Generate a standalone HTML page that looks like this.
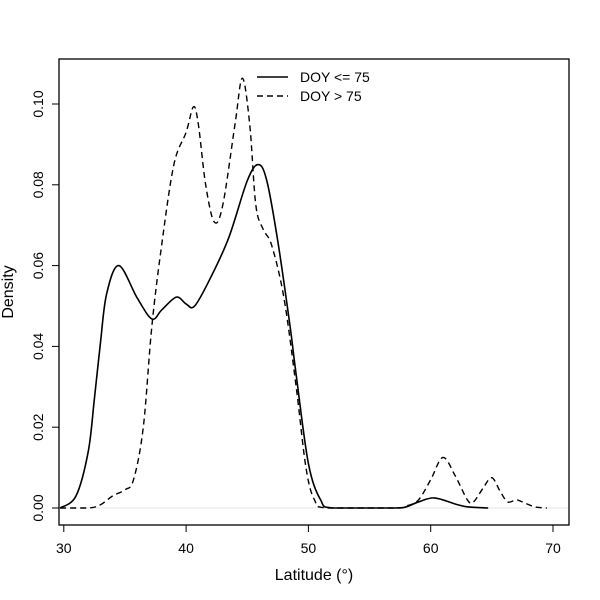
<!DOCTYPE html>
<html><head><meta charset="utf-8"><style>
body{margin:0;background:#fff}
svg{display:block;font-family:"Liberation Sans",sans-serif}
</style></head><body>
<svg id="chart" width="600" height="600">
<g id="plot"></g>
</svg>
<script>
const xTicks=[30,40,50,60,70];
const yTicks=[0,0.02,0.04,0.06,0.08,0.10];
const yTickLabels=["0.00","0.02","0.04","0.06","0.08","0.10"];
const solidX=[29.7,31,32,32.5,33,33.5,34.5,36,37.2,38,39.2,40,40.7,42,43.5,45,45.9,46.6,47.5,48.5,49,50,51,52,57,58,59,60.3,62,63,64.7];
const solidY=[0,0.003,0.014,0.027,0.041,0.053,0.060,0.052,0.0468,0.049,0.0522,0.0505,0.050,0.057,0.067,0.081,0.085,0.081,0.066,0.045,0.033,0.011,0.002,0,0,0.0003,0.0015,0.0025,0.001,0.0003,0];
const dashX=[29.7,32,33,34,35,35.7,36.5,37.2,38,39,40,40.6,41,41.6,42.3,43,44,44.6,45.2,45.7,46.3,47,48,49,49.8,50.5,51.5,57,58,59,60,61,62,63,63.5,64.3,65,65.7,66.3,67,67.5,68.5,69.5];
const dashY=[0,0,0.0008,0.003,0.0045,0.007,0.02,0.045,0.065,0.085,0.093,0.0993,0.095,0.08,0.0708,0.075,0.095,0.1064,0.095,0.075,0.069,0.065,0.052,0.030,0.01,0.002,0,0,0.0005,0.002,0.007,0.0125,0.008,0.002,0.0015,0.005,0.0075,0.004,0.0015,0.002,0.0015,0.0003,0];
const legendLabels=["DOY <= 75","DOY > 75"];
const NS="http://www.w3.org/2000/svg";
const sx=v=>63.8+(v-30)*12.23;
const sy=v=>508-v*4040;
const g=document.getElementById('plot');
function mk(t,a,txt){const e=document.createElementNS(NS,t);for(const k in a)e.setAttribute(k,a[k]);if(txt!==undefined)e.textContent=txt;g.appendChild(e);return e;}
function path(xs,ys){const p=xs.map((x,i)=>[sx(x),sy(ys[i])]);let d=`M${p[0][0]},${p[0][1]}`;
for(let i=0;i<p.length-1;i++){const p0=p[i-1]||p[i],p1=p[i],p2=p[i+1],p3=p[i+2]||p2;
let c1x=p1[0]+(p2[0]-p0[0])/6,c1y=p1[1]+(p2[1]-p0[1])/6,c2x=p2[0]-(p3[0]-p1[0])/6,c2y=p2[1]-(p3[1]-p1[1])/6;
c1y=Math.min(c1y,sy(0));c2y=Math.min(c2y,sy(0));
d+=` C${c1x},${c1y} ${c2x},${c2y} ${p2[0]},${p2[1]}`;}return d;}
let e;
e=mk('line',{x1:59,x2:569,y1:sy(0),y2:sy(0),stroke:'#e6e6e6','stroke-width':1});

e=mk('rect',{x:59,y:59,width:510,height:466,fill:'none',stroke:'#000','stroke-width':1.3});

xTicks.forEach(t=>{
 e=mk('line',{x1:sx(t),x2:sx(t),y1:525,y2:532,stroke:'#000'});
 
 e=mk('text',{x:sx(t),y:553,'text-anchor':'middle','font-size':14},String(t));
 
});
yTicks.forEach((t,i)=>{
 e=mk('line',{x1:52,x2:59,y1:sy(t),y2:sy(t),stroke:'#000'});
 
 e=mk('text',{x:0,y:0,'text-anchor':'middle','font-size':14,transform:`translate(43,${sy(t)}) rotate(-90)`},yTickLabels[i]);
 
});
e=mk('text',{x:314,y:580,'text-anchor':'middle','font-size':16},'Latitude (°)');

e=mk('text',{x:0,y:0,'text-anchor':'middle','font-size':16,transform:'translate(13,292) rotate(-90)'},'Density');

e=mk('path',{d:path(solidX,solidY),fill:'none',stroke:'#000','stroke-width':1.6});

e=mk('path',{d:path(dashX,dashY),fill:'none',stroke:'#000','stroke-width':1.4,'stroke-dasharray':'6,4'});

e=mk('line',{x1:257,x2:288,y1:77,y2:77,stroke:'#000','stroke-width':1.6});

e=mk('text',{x:300,y:82,'font-size':14},legendLabels[0]);

e=mk('line',{x1:257,x2:288,y1:96,y2:96,stroke:'#000','stroke-width':1.4,'stroke-dasharray':'6,4'});

e=mk('text',{x:300,y:101,'font-size':14},legendLabels[1]);

</script>
</body></html>
